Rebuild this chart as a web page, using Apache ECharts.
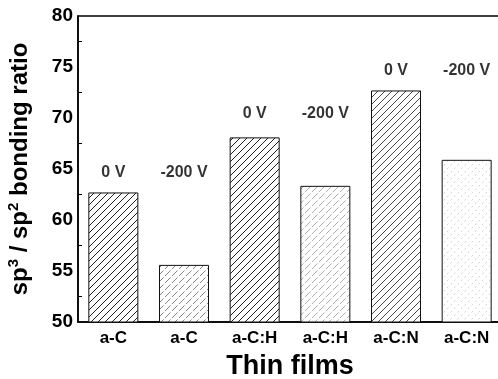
<!DOCTYPE html>
<html>
<head>
<meta charset="utf-8">
<script src="https://cdn.jsdelivr.net/npm/echarts@6/dist/echarts.min.js"></script>
<style>
  html, body { margin: 0; padding: 0; background: #fff; }
  #chart { width: 498px; height: 379px; }
</style>
</head>
<body>
<div id="chart"></div>
<script>
// Thin film categories and their sp3/sp2 bonding ratios
const categories = ['a-C', 'a-C', 'a-C:H', 'a-C:H', 'a-C:N', 'a-C:N'];
const ratios = [62.7, 55.6, 68.1, 63.35, 72.7, 65.9];
// Bias voltage annotations and the height (in axis units) where each one sits
const biasLabels = ['0 V', '-200 V', '0 V', '-200 V', '0 V', '-200 V'];
const biasLabelLevels = [64.6, 64.6, 70.4, 70.4, 74.6, 74.6];
const yTicks = [50, 55, 60, 65, 70, 75, 80];

// Diagonal hatch fill drawn on a small repeating canvas tile
function hatch(color, width, dash) {
  const s = 7;
  const c = document.createElement('canvas');
  c.width = s; c.height = s;
  const g = c.getContext('2d');
  g.fillStyle = '#fff';
  g.fillRect(0, 0, s, s);
  g.strokeStyle = color;
  g.lineWidth = width;
  if (dash) g.setLineDash(dash);
  g.beginPath();
  g.moveTo(-1, s + 1); g.lineTo(s + 1, -1);
  g.moveTo(-1, 1); g.lineTo(1, -1);
  g.moveTo(s - 1, s + 1); g.lineTo(s + 1, s - 1);
  g.stroke();
  return { image: c, repeat: 'repeat' };
}
const fills = [
  hatch('#222', 1),
  hatch('#777', 0.9, [5, 2]),
  hatch('#222', 1),
  hatch('#999', 0.8, [5, 2]),
  hatch('#333', 0.9),
  hatch('#c4c4c4', 0.8, [2, 3])
];

const chart = echarts.init(document.getElementById('chart'), null, { renderer: 'canvas' });
const font = '"Liberation Sans", Arial, sans-serif';

chart.setOption({
  animation: false,
  backgroundColor: '#fff',
  grid: {
    left: 78, top: 16, width: 424, height: 306,
    containLabel: false,
    outerBoundsMode: 'none',
    show: true, borderColor: '#000', borderWidth: 1.5, backgroundColor: 'transparent'
  },
  xAxis: {
    type: 'category',
    data: categories,
    name: 'Thin films',
    nameLocation: 'middle',
    nameGap: 31,
    nameTextStyle: { fontFamily: font, fontWeight: 'bold', fontSize: 27, color: '#000' },
    axisLine: { lineStyle: { color: '#000', width: 1.5 } },
    axisTick: { inside: true, length: 4, lineStyle: { color: '#000' } },
    axisLabel: { fontFamily: font, fontWeight: 'bold', fontSize: 17, color: '#000', margin: 8 }
  },
  yAxis: {
    type: 'value',
    min: 50, max: 80, interval: 5,
    name: 'sp{sup|3} / sp{sup|2} bonding ratio',
    nameLocation: 'middle',
    nameGap: 43,
    nameTextStyle: {
      fontFamily: font, fontWeight: 'bold', fontSize: 24, color: '#000',
      rich: { sup: { fontFamily: font, fontWeight: 'bold', fontSize: 15, color: '#000', verticalAlign: 'top', padding: [0, 0, 14, 0] } }
    },
    axisLine: { show: true, lineStyle: { color: '#000', width: 1.5 } },
    axisTick: { inside: true, length: 6, lineStyle: { color: '#000' } },
    minorTick: { show: true, splitNumber: 2, length: 4, lineStyle: { color: '#000' } },
    splitLine: { show: false },
    axisLabel: {
      fontFamily: font, fontWeight: 'bold', fontSize: 19, color: '#000', margin: 5,
      formatter: v => (yTicks.includes(v) ? String(v) : '')
    }
  },
  series: [
    {
      type: 'bar',
      barWidth: 50,
      data: ratios.map((v, i) => ({
        value: v,
        itemStyle: { color: fills[i], borderColor: '#111', borderWidth: 1 }
      })),
      z: 2
    },
    {
      type: 'scatter',
      symbolSize: 0,
      data: biasLabelLevels.map((lv, i) => [i, lv]),
      label: {
        show: true,
        position: 'inside',
        formatter: p => biasLabels[p.dataIndex],
        fontFamily: font, fontWeight: 'bold', fontSize: 16, color: '#000'
      },
      z: 3
    }
  ]
});
</script>
</body>
</html>
